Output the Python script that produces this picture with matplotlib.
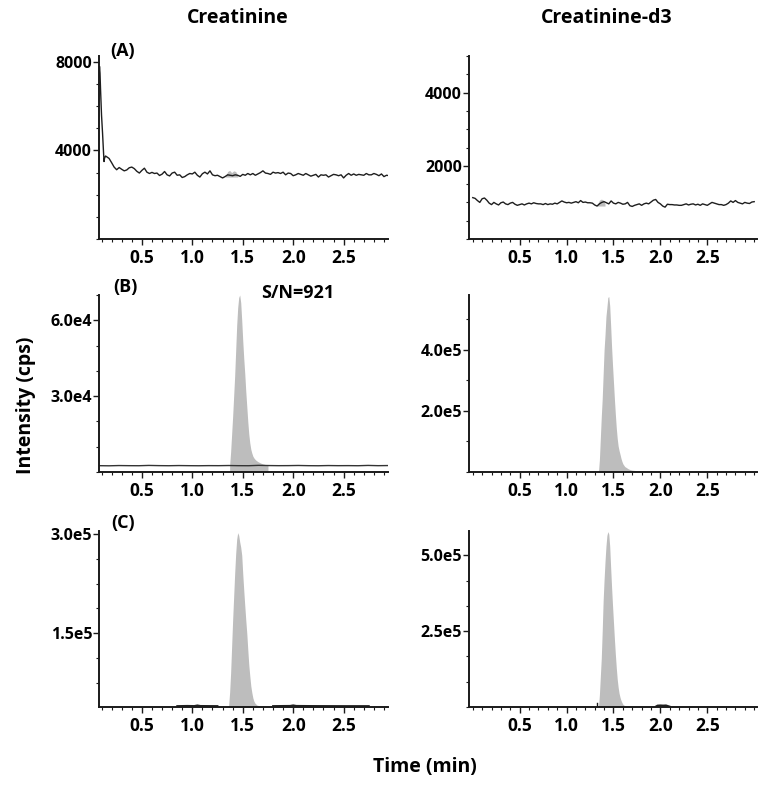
import numpy as np
import matplotlib
matplotlib.use("Agg")
import matplotlib.pyplot as plt
from matplotlib.ticker import MultipleLocator, FixedLocator

plt.rcParams['font.family'] = ['Open Sans', 'DejaVu Sans']

# ---------------- data ----------------
compounds = ["Creatinine", "Creatinine-d3"]
panel_labels = ["(A)", "(B)", "(C)"]
sn_text = "S/N=921"
x_tick_values = [0.5, 1.0, 1.5, 2.0, 2.5]

# (A) Creatinine blank trace
a_left_spike_t = [0.075, 0.08, 0.085, 0.09, 0.10, 0.11, 0.12, 0.125, 0.13, 0.14]
a_left_spike_v = [7300, 7800, 7500, 6800, 5600, 4800, 3900, 3500, 3650, 3750]
a_left_v = [3720, 3640, 3450, 3250, 3130, 3230, 3150, 3080, 3120, 3220,
            3250, 3180, 3060, 2980, 3100, 3200, 3020, 2960, 3010, 2960,
            2980, 2870, 2930, 3050, 2900, 2850, 2980, 3020, 2880, 2900,
            2780, 2820, 2900, 2960, 2940, 3020, 2880, 2800, 2950, 3020,
            2940, 3080, 2900, 2860, 2880, 2820, 2760, 2820, 2900, 2880,
            2860, 2900, 2880, 2830, 2920, 2880, 2960, 2900, 2960, 2880,
            2940, 3000, 3080, 2980, 2960, 2920, 3020, 2980, 3000, 2960,
            3020, 2900, 2980, 2960, 2860, 2900, 2960, 2920, 2880, 2960,
            2900, 2840, 2880, 2920, 2800, 2900, 2880, 2900, 2800, 2860,
            2920, 2900, 2860, 2900, 2760, 2880, 2960, 2880, 2940, 2880,
            2920, 2900, 2880, 2960, 2900, 2900, 2960, 2920, 2860, 2940,
            2820, 2880]
a_left_t_start, a_left_t_end = 0.15, 2.925
a_left_blob_t = [1.33, 1.35, 1.37, 1.39, 1.41, 1.43, 1.45]
a_left_blob_v = [2820, 3050, 3100, 3000, 3080, 3050, 2880]

# (A) Creatinine-d3 blank trace
a_right_v = [1130, 1110, 1050, 1000, 1100, 1120, 1060, 980, 940, 1000,
             960, 930, 990, 1010, 960, 940, 980, 1000, 950, 920,
             940, 960, 930, 960, 980, 960, 990, 970, 960, 960,
             940, 970, 940, 960, 950, 980, 960, 1000, 1040, 1010,
             990, 1000, 980, 1000, 1020, 990, 1050, 1000, 1010, 990,
             990, 980, 930, 900, 960, 1000, 1020, 990, 960, 1040,
             980, 960, 1000, 980, 950, 960, 1000, 910, 890, 920,
             940, 960, 920, 960, 980, 960, 1010, 1060, 1080, 1000,
             960, 900, 870, 950, 940, 940, 930, 930, 920, 920,
             940, 960, 930, 950, 960, 930, 950, 920, 960, 940,
             920, 960, 1000, 980, 960, 940, 940, 920, 940, 980,
             1040, 1000, 1050, 1000, 980, 960, 1000, 980, 970, 1010,
             1020]
a_right_t_start, a_right_t_end = 0.0, 3.0
a_right_blob_t = [1.33, 1.35, 1.37, 1.39, 1.41]
a_right_blob_v = [930, 1060, 1090, 1070, 960]

# (B) LLOQ - Creatinine
b_left_base_v = [2500, 2450, 2550, 2500, 2480, 2600, 2520, 2480, 2550, 2500,
                 2470, 2520, 2500, 2560, 2500, 2480, 2620, 2550, 2500, 2520,
                 2580, 2500, 2470, 2550, 2500, 2520, 2480, 2600, 2500, 2550]
b_left_peak_t = [1.37, 1.38, 1.39, 1.40, 1.41, 1.42, 1.43, 1.44, 1.45, 1.46,
                 1.47, 1.48, 1.49, 1.50, 1.51, 1.52, 1.53, 1.54, 1.55, 1.56,
                 1.57, 1.58, 1.59, 1.60, 1.61, 1.62, 1.63, 1.64, 1.65, 1.66,
                 1.67, 1.68, 1.70, 1.72, 1.75]
b_left_peak_v = [2500, 8000, 15000, 22000, 30000, 38000, 48000, 58000, 65000, 69000,
                 70000, 67000, 60000, 52000, 45000, 39000, 32000, 26000, 20000, 15000,
                 11500, 9000, 7500, 6300, 5600, 5100, 4700, 4400, 4100, 3900,
                 3700, 3500, 3200, 3000, 2600]

# (B) LLOQ - Creatinine-d3
b_right_peak_t = [1.34, 1.35, 1.36, 1.37, 1.38, 1.39, 1.40, 1.41, 1.42, 1.43,
                  1.44, 1.45, 1.46, 1.47, 1.48, 1.49, 1.50, 1.51, 1.52, 1.53,
                  1.54, 1.55, 1.56, 1.57, 1.58, 1.59, 1.60, 1.62, 1.64, 1.66,
                  1.68, 1.70, 1.73, 1.76, 1.80]
b_right_peak_v = [0, 40000, 110000, 180000, 240000, 320000, 400000, 450000, 510000, 540000,
                  572000, 575000, 545000, 480000, 410000, 350000, 295000, 240000, 190000, 145000,
                  110000, 85000, 70000, 58000, 45000, 35000, 27000, 18000, 14000, 10000,
                  7500, 6000, 5000, 3000, 0]

# (C) sample - Creatinine
c_left_floor = 38000
c_left_seg1_t = [0.85, 0.95, 1.02, 1.05, 1.08, 1.15, 1.25]
c_left_seg1_v = [39500, 39800, 39600, 40500, 39700, 39600, 39500]
c_left_seg2_t = [1.80, 1.90, 1.97, 2.00, 2.03, 2.20, 2.50, 2.75]
c_left_seg2_v = [39500, 39700, 39800, 40600, 39800, 39600, 39500, 39500]
c_left_peak_t = [1.36, 1.37, 1.38, 1.39, 1.40, 1.41, 1.42, 1.43, 1.44, 1.45,
                 1.46, 1.47, 1.48, 1.49, 1.50, 1.51, 1.52, 1.53, 1.54, 1.55,
                 1.56, 1.57, 1.58, 1.59, 1.60, 1.61, 1.62, 1.64, 1.66]
c_left_peak_v = [40000, 60000, 90000, 130000, 170000, 205000, 240000, 270000, 292000, 302000,
                 298000, 288000, 280000, 268000, 240000, 215000, 192000, 170000, 150000, 125000,
                 102000, 85000, 70000, 60000, 52000, 47000, 44000, 41000, 40000]

# (C) sample - Creatinine-d3
c_right_bump_t = [1.95, 1.97, 2.00, 2.03, 2.06, 2.10]
c_right_bump_v = [1500, 5000, 5500, 5000, 5500, 1500]
c_right_peak_t = [1.34, 1.35, 1.36, 1.37, 1.38, 1.39, 1.40, 1.41, 1.42, 1.43,
                  1.44, 1.45, 1.46, 1.47, 1.48, 1.49, 1.50, 1.51, 1.52, 1.53,
                  1.54, 1.55, 1.56, 1.57, 1.58, 1.59, 1.60, 1.62, 1.65]
c_right_peak_v = [0, 40000, 100000, 160000, 250000, 350000, 420000, 480000, 530000, 565000,
                  578000, 570000, 530000, 460000, 395000, 335000, 280000, 225000, 175000, 130000,
                  92000, 65000, 45000, 32000, 22000, 15000, 9000, 4000, 0]

# y axis settings per panel
y_major = {
    (0, 0): [4000, 8000], (0, 1): [2000, 4000],
    (1, 0): [30000, 60000], (1, 1): [200000, 400000],
    (2, 0): [150000, 300000], (2, 1): [250000, 500000],
}
y_labels = {
    (0, 0): ["4000", "8000"], (0, 1): ["2000", "4000"],
    (1, 0): ["3.0e4", "6.0e4"], (1, 1): ["2.0e5", "4.0e5"],
    (2, 0): ["1.5e5", "3.0e5"], (2, 1): ["2.5e5", "5.0e5"],
}
y_lims = {
    (0, 0): (0, 8270), (0, 1): (0, 5000),
    (1, 0): (0, 70000), (1, 1): (0, 580000),
    (2, 0): (38000, 304500), (2, 1): (0, 580000),
}
y_minor = {
    (0, 0): 1000, (0, 1): 500,
    (1, 0): 10000, (1, 1): 100000,
    (2, 0): 37500, (2, 1): 250000 / 3,
}

# ---------------- figure ----------------
W, H = 772, 800
fig = plt.figure(figsize=(W / 100, H / 100), dpi=100)

col_x = [(99, 388), (469, 757)]
row_y = [(56, 239), (295, 472), (531, 707)]
x_lims = [(0.075, 2.94), (-0.04, 3.03)]

gray = "#bdbdbd"
lc = "#1e1e1e"
axes = {}
for r in range(3):
    for c in range(2):
        x0, x1 = col_x[c]
        y0, y1 = row_y[r]
        ax = fig.add_axes([x0 / W, 1 - y1 / H, (x1 - x0) / W, (y1 - y0) / H])
        axes[(r, c)] = ax
        ax.set_xlim(*x_lims[c])
        ax.set_ylim(*y_lims[(r, c)])
        for s in ["top", "right"]:
            ax.spines[s].set_visible(False)
        for s in ["left", "bottom"]:
            ax.spines[s].set_linewidth(1.4)
            ax.spines[s].set_color("#1a1a1a")
        ax.xaxis.set_major_locator(FixedLocator(x_tick_values))
        ax.set_xticklabels([f"{v:.1f}" for v in x_tick_values])
        ax.xaxis.set_minor_locator(MultipleLocator(0.1))
        ax.yaxis.set_major_locator(FixedLocator(y_major[(r, c)]))
        ax.set_yticklabels(y_labels[(r, c)])
        ax.yaxis.set_minor_locator(MultipleLocator(y_minor[(r, c)]))
        ax.tick_params(axis="both", which="major", direction="out", length=4,
                       width=1.0, color="#1a1a1a", pad=2)
        ax.tick_params(axis="both", which="minor", direction="out", length=2.5,
                       width=0.8, color="#1a1a1a")
        ax.tick_params(axis="x", labelsize=12.5, pad=3)
        ax.tick_params(axis="y", labelsize=11.5, pad=1)
        for lab in ax.get_xticklabels() + ax.get_yticklabels():
            lab.set_fontweight("bold")
        ax.patch.set_alpha(0)

# (A) left
ax = axes[(0, 0)]
t = np.linspace(a_left_t_start, a_left_t_end, len(a_left_v))
ax.fill_between(a_left_blob_t, 2800, a_left_blob_v, color=gray, lw=0)
ax.plot(list(a_left_spike_t) + list(t) + [2.94],
        list(a_left_spike_v) + list(a_left_v) + [2870], color=lc, lw=1.0)

# (A) right
ax = axes[(0, 1)]
t = np.linspace(a_right_t_start, a_right_t_end, len(a_right_v))
ax.fill_between(a_right_blob_t, 900, a_right_blob_v, color=gray, lw=0)
ax.plot(t, a_right_v, color=lc, lw=1.0)

# (B) left
ax = axes[(1, 0)]
ax.fill_between(b_left_peak_t, 0, b_left_peak_v, color=gray, lw=0)
tb = np.linspace(0.075, 2.94, len(b_left_base_v))
ax.plot(tb, b_left_base_v, color="#333333", lw=1.0)

# (B) right
ax = axes[(1, 1)]
ax.fill_between(b_right_peak_t, 0, b_right_peak_v, color=gray, lw=0)
ax.plot([1.30, 1.33], [1500, 1500], color=lc, lw=1.0)

# (C) left
ax = axes[(2, 0)]
ax.fill_between(c_left_peak_t, c_left_floor, c_left_peak_v, color=gray, lw=0)
ax.plot(c_left_seg1_t, c_left_seg1_v, color=lc, lw=1.3)
ax.plot(c_left_seg2_t, c_left_seg2_v, color=lc, lw=1.3)

# (C) right
ax = axes[(2, 1)]
ax.fill_between(c_right_peak_t, 0, c_right_peak_v, color=gray, lw=0)
ax.plot(c_right_bump_t, c_right_bump_v, color=lc, lw=1.3)
ax.plot([1.325, 1.325], [0, 14000], color=lc, lw=1.0)

# ---------------- texts ----------------
def ftext(x, y, s, **kw):
    fig.text(x / W, 1 - y / H, s, ha="center", va="center", **kw)

ftext(238, 18, compounds[0], fontsize=14, fontweight="bold")
ftext(607, 18, compounds[1], fontsize=14, fontweight="bold")
ftext(26, 405, "Intensity (cps)", fontsize=14, fontweight="bold", rotation=90)
ftext(425, 767, "Time (min)", fontsize=14, fontweight="bold")
ftext(123, 51, panel_labels[0], fontsize=13, fontweight="bold")
ftext(125, 287, panel_labels[1], fontsize=13, fontweight="bold")
ftext(123, 523, panel_labels[2], fontsize=13, fontweight="bold")
ftext(298, 293, sn_text, fontsize=13, fontweight="bold")

fig.savefig("out.png", dpi=100, facecolor="white")
